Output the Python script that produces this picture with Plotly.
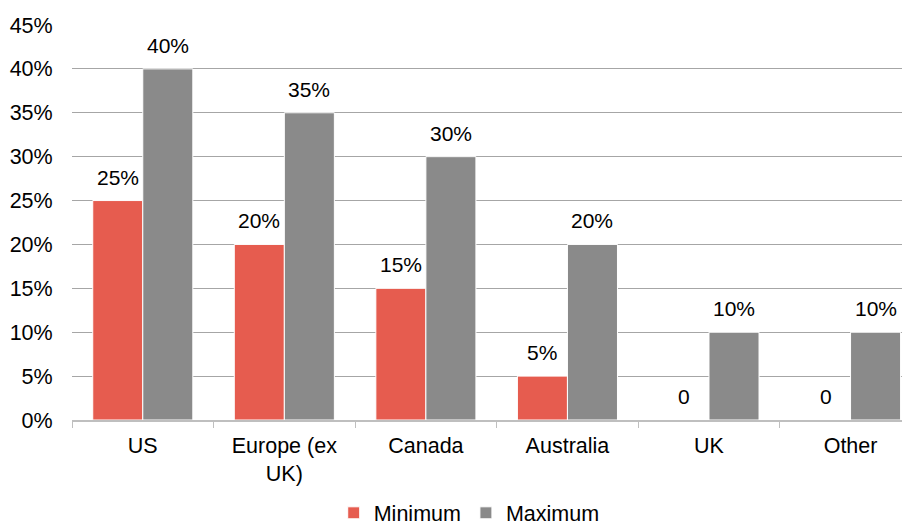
import plotly.graph_objects as go

categories = ["US", "Europe (ex<br>UK)", "Canada", "Australia", "UK", "Other"]
minimum = [25, 20, 15, 5, 0, 0]
maximum = [40, 35, 30, 20, 10, 10]
y_ticks = [0, 5, 10, 15, 20, 25, 30, 35, 40, 45]
y_tick_text = [f"{t}%" for t in y_ticks]

RED = "#E65C4F"
GRAY = "#8A8A8A"
FONT = "Liberation Sans, Arial, sans-serif"
FS = 21.5
LFS = 21

def lab(v):
    return "0" if v == 0 else f"{v}%"

fig = go.Figure()
fig.add_bar(x=categories, y=minimum, name="Minimum", marker_color=RED,
            marker_line=dict(color="white", width=1))
fig.add_bar(x=categories, y=maximum, name="Maximum", marker_color=GRAY,
            marker_line=dict(color="white", width=1))

for c, v in zip(categories, minimum):
    fig.add_annotation(x=c, y=v, text=lab(v), xshift=-25, yshift=10, yanchor="bottom",
                       showarrow=False, font=dict(size=LFS, color="#000", family=FONT))
for c, v in zip(categories, maximum):
    fig.add_annotation(x=c, y=v, text=lab(v), xshift=25, yshift=10, yanchor="bottom",
                       showarrow=False, font=dict(size=LFS, color="#000", family=FONT))

fig.update_layout(
    width=902, height=517,
    margin=dict(l=64, r=0, t=17, b=105, autoexpand=False),
    plot_bgcolor="white", paper_bgcolor="white",
    barmode="group", bargap=0.293, bargroupgap=0,
    font=dict(family=FONT, size=FS, color="#000"),
    showlegend=True,
    legend=dict(orientation="h", x=0.474, xanchor="center", y=-0.235, yanchor="middle",
                font=dict(size=FS), itemwidth=30, traceorder="normal"),
)
fig.update_xaxes(range=[-0.5, 5.42], showline=True, linecolor="#BFBFBF", linewidth=1.5,
                 ticks="outside", tickson="boundaries", ticklen=6, tickcolor="#BFBFBF",
                 ticklabelstandoff=5,
                 tickfont=dict(size=FS), showgrid=False, automargin=False)
fig.update_yaxes(range=[0, 45], tickvals=y_ticks, ticktext=y_tick_text, showgrid=True,
                 gridcolor="#A6A6A6", gridwidth=1, zeroline=False, showline=False,
                 ticks="outside", ticklen=14, tickcolor="rgba(0,0,0,0)",
                 tickfont=dict(size=FS), automargin=False)

fig.write_html("out.html")
